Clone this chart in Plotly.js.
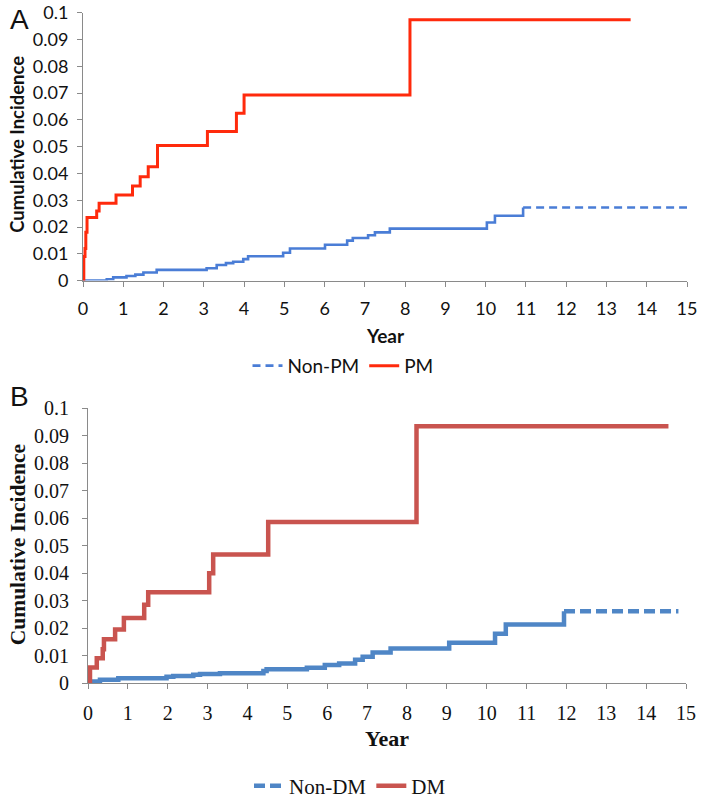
<!DOCTYPE html>
<html>
<head>
<meta charset="utf-8">
<script src="https://cdn.plot.ly/plotly-3.0.1.min.js"></script>
<style>html,body{margin:0;padding:0;background:#fff;}#chart{width:704px;height:807px;}</style>
</head>
<body>
<div id="chart"></div>
<script>
// Panel A: PM vs Non-PM
const pmYears = [0, 0.02, 0.05, 0.07, 0.10, 0.34, 0.40, 0.82, 1.23, 1.42, 1.62, 1.85, 3.09, 3.81, 4.00, 8.12, 13.6];
const pmInc   = [0, 0.009, 0.012, 0.018, 0.0236, 0.026, 0.0289, 0.032, 0.0353, 0.0388, 0.0425, 0.0505, 0.0557, 0.0625, 0.0693, 0.0974, 0.0974];
const nonPmYears = [0, 0.59, 0.75, 1.08, 1.30, 1.50, 1.83, 3.07, 3.32, 3.55, 3.73, 3.98, 4.10, 4.97, 5.14, 6.01, 6.56, 6.70, 7.08, 7.25, 7.62, 10.03, 10.23, 10.93];
const nonPmInc   = [0, 0.0005, 0.0012, 0.0017, 0.0022, 0.003, 0.004, 0.0046, 0.0058, 0.0065, 0.007, 0.008, 0.0091, 0.0104, 0.012, 0.0134, 0.0149, 0.0159, 0.0169, 0.018, 0.0194, 0.0217, 0.0242, 0.0273];
const nonPmTailYears = [10.93, 15];
const nonPmTailInc   = [0.0273, 0.0273];

// Panel B: DM vs Non-DM
const dmYears = [0, 0.05, 0.22, 0.37, 0.40, 0.68, 0.90, 1.41, 1.51, 3.04, 3.14, 4.52, 8.24, 14.56];
const dmInc   = [0, 0.0057, 0.009, 0.0123, 0.0159, 0.0195, 0.0237, 0.0285, 0.0331, 0.040, 0.0468, 0.0586, 0.0935, 0.0935];
const nonDmYears = [0, 0.13, 0.30, 0.76, 1.97, 2.14, 2.64, 2.81, 3.31, 4.40, 4.48, 5.49, 5.94, 6.30, 6.70, 6.89, 7.14, 7.59, 9.06, 10.21, 10.48, 11.94];
const nonDmInc   = [0, 0.0006, 0.0012, 0.0017, 0.0023, 0.0026, 0.003, 0.0033, 0.0036, 0.0044, 0.005, 0.0056, 0.0066, 0.0071, 0.0085, 0.0096, 0.0111, 0.0126, 0.0147, 0.0179, 0.0213, 0.0261];
const nonDmTailYears = [11.94, 14.81];
const nonDmTailInc   = [0.0261, 0.0261];

const xTicks = [0,1,2,3,4,5,6,7,8,9,10,11,12,13,14,15];
const yTicks = [0,0.01,0.02,0.03,0.04,0.05,0.06,0.07,0.08,0.09,0.1];
const yTickText = ['0','0.01','0.02','0.03','0.04','0.05','0.06','0.07','0.08','0.09','0.1'];

const colA_red = '#ff2a0c', colA_blue = '#4a7dd6';
const colB_red = '#c9544f', colB_blue = '#4f86c6';
const sansA = 'Lato, "Open Sans", sans-serif';
const serifB = '"Liberation Serif", "DejaVu Serif", serif';

const traces = [
  {x: nonPmYears, y: nonPmInc, mode:'lines', line:{shape:'hv', color:colA_blue, width:2.6}, xaxis:'x', yaxis:'y', showlegend:false, legendgroup:'npm', legend:'legend'},
  {x: nonPmTailYears, y: nonPmTailInc, mode:'lines', name:'Non-PM', line:{shape:'hv', color:colA_blue, width:2.6, dash:'8px,5px'}, xaxis:'x', yaxis:'y', legendgroup:'npm', legend:'legend'},
  {x: pmYears, y: pmInc, mode:'lines', name:'PM', line:{shape:'hv', color:colA_red, width:3}, xaxis:'x', yaxis:'y', legend:'legend'},
  {x: nonDmYears, y: nonDmInc, mode:'lines', line:{shape:'hv', color:colB_blue, width:4.5}, xaxis:'x2', yaxis:'y2', showlegend:false, legendgroup:'ndm', legend:'legend2'},
  {x: nonDmTailYears, y: nonDmTailInc, mode:'lines', name:'Non-DM', line:{shape:'hv', color:colB_blue, width:4.5, dash:'11px,5px'}, xaxis:'x2', yaxis:'y2', legendgroup:'ndm', legend:'legend2'},
  {x: dmYears, y: dmInc, mode:'lines', name:'DM', line:{shape:'hv', color:colB_red, width:4.5}, xaxis:'x2', yaxis:'y2', legend:'legend2'}
];

const W = 704, H = 807;
function axisCommon(fontFamily, size){
  return {showgrid:false, zeroline:false, showline:true, linecolor:'#8a8a8a', linewidth:1,
          ticks:'outside', ticklen:5, tickcolor:'#8a8a8a', tickwidth:1,
          tickfont:{family:fontFamily, size:size, color:'#111'}, fixedrange:true};
}
const layout = {
  width: W, height: H,
  margin:{l:0, r:0, t:0, b:0},
  paper_bgcolor:'#fff', plot_bgcolor:'#fff',
  showlegend:true,
  xaxis: Object.assign(axisCommon(sansA, 18), {domain:[83/W, 687/W], range:[0,15], tickvals:xTicks, ticktext:xTicks.map(String), anchor:'y', ticklabelstandoff:7}),
  yaxis: Object.assign(axisCommon(sansA, 18), {domain:[1-283/H, 1-13/H], range:[0,0.1], tickvals:yTicks, ticktext:yTickText, anchor:'x', ticklabelstandoff:5}),
  xaxis2: Object.assign(axisCommon(serifB, 20), {domain:[88/W, 686/W], range:[0,15], tickvals:xTicks, ticktext:xTicks.map(String), anchor:'y2', ticklabelstandoff:7}),
  yaxis2: Object.assign(axisCommon(serifB, 20), {domain:[1-689/H, 1-412/H], range:[0,0.1], tickvals:yTicks, ticktext:yTickText, anchor:'x2', ticklabelstandoff:9}),
  legend: {orientation:'h', x:343/W, xanchor:'center', y:1-369/H, yanchor:'middle', font:{family:sansA, size:19, color:'#111'}, bgcolor:'rgba(0,0,0,0)', traceorder:'normal'},
  legend2: {orientation:'h', x:350/W, xanchor:'center', y:1-793/H, yanchor:'middle', font:{family:serifB, size:21, color:'#111'}, bgcolor:'rgba(0,0,0,0)', traceorder:'normal'},
  annotations: [
    {text:'A', xref:'paper', yref:'paper', x:19/W, y:1-20/H, xanchor:'center', yanchor:'middle', showarrow:false, font:{family:'"Liberation Sans", Arial, sans-serif', size:28, color:'#111'}},
    {text:'B', xref:'paper', yref:'paper', x:19/W, y:1-400/H, xanchor:'center', yanchor:'middle', showarrow:false, font:{family:'"Liberation Sans", Arial, sans-serif', size:28, color:'#111'}},
    {text:'<b>Cumulative Incidence</b>', xref:'paper', yref:'paper', x:17/W, y:1-146/H, xanchor:'center', yanchor:'middle', textangle:-90, showarrow:false, font:{family:sansA, size:18.5, color:'#111'}},
    {text:'<b>Year</b>', xref:'paper', yref:'paper', x:385/W, y:1-338/H, xanchor:'center', yanchor:'middle', showarrow:false, font:{family:sansA, size:19, color:'#111'}},
    {text:'<b>Cumulative Incidence</b>', xref:'paper', yref:'paper', x:18/W, y:1-550/H, xanchor:'center', yanchor:'middle', textangle:-90, showarrow:false, font:{family:serifB, size:21.5, color:'#111'}},
    {text:'<b>Year</b>', xref:'paper', yref:'paper', x:387/W, y:1-745/H, xanchor:'center', yanchor:'middle', showarrow:false, font:{family:serifB, size:22, color:'#111'}}
  ]
};
Plotly.newPlot('chart', traces, layout, {displayModeBar:false, staticPlot:true});
</script>
</body>
</html>
